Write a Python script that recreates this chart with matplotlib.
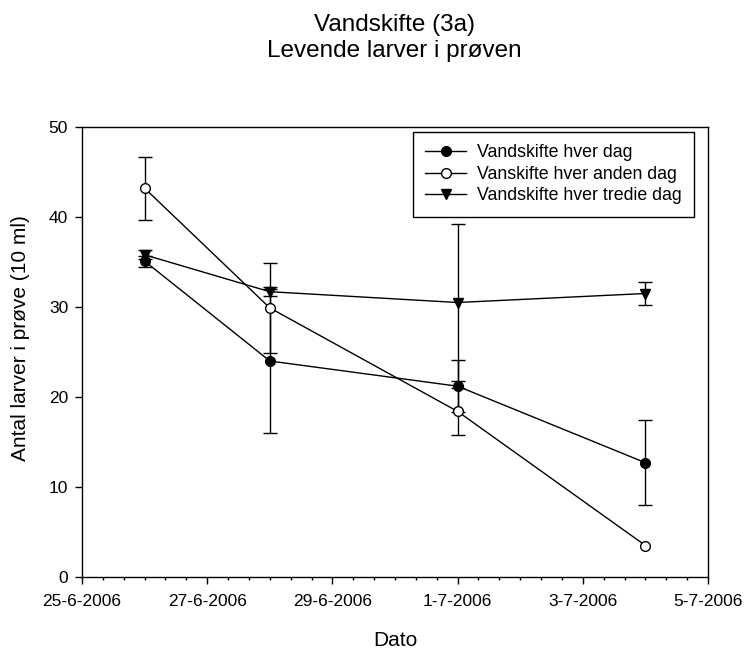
import datetime as dt

import matplotlib
matplotlib.use("Agg")
import matplotlib.pyplot as plt
import matplotlib.dates as mdates
import numpy as np
from matplotlib.lines import Line2D
from matplotlib.ticker import FuncFormatter

plt.rcParams['font.family'] = ['Liberation Sans', 'DejaVu Sans']

# Sampling dates and mean counts (with standard deviations) per treatment
dates = [dt.datetime(2006, 6, 26), dt.datetime(2006, 6, 28),
         dt.datetime(2006, 7, 1), dt.datetime(2006, 7, 4)]

daily = [35.1, 24.0, 21.2, 12.7]
daily_sd = [0.6, 8.0, 2.9, 4.7]

every_other = [43.2, 29.9, 18.4, 3.5]
every_other_sd = [3.5, 5.0, 2.6, np.nan]  # last sample has no spread

every_third = [35.8, 31.7, 30.5, 31.5]
every_third_sd = [0.5, 0.5, 8.7, 1.3]

labels = ["Vandskifte hver dag", "Vanskifte hver anden dag",
          "Vandskifte hver tredie dag"]

W, H = 744, 650
fig = plt.figure(figsize=(W / 100, H / 100), dpi=100)
ax = fig.add_axes([82 / W, 1 - 577 / H, 626 / W, 450 / H])

common = dict(color='black', lw=1.0, elinewidth=1.0, capsize=5, capthick=1.0,
              markersize=7, markeredgecolor='black', markeredgewidth=1.0)

ax.errorbar(dates, daily, yerr=daily_sd, fmt='-o', markerfacecolor='black',
            **common)
ax.errorbar(dates, every_other, yerr=every_other_sd, fmt='-o',
            markerfacecolor='white', **common)
ax.errorbar(dates, every_third, yerr=every_third_sd, fmt='-v',
            markerfacecolor='black', **common)

ax.set_xlim(dt.datetime(2006, 6, 25), dt.datetime(2006, 7, 5))
ax.set_ylim(0, 50)

ax.xaxis.set_major_locator(mdates.DayLocator(bymonthday=[25, 27, 29, 1, 3, 5]))
ax.xaxis.set_minor_locator(mdates.HourLocator(byhour=[0, 8, 16]))


def fmt_date(x, pos):
    d = mdates.num2date(x)
    return f"{d.day}-{d.month}-{d.year}"


ax.xaxis.set_major_formatter(FuncFormatter(fmt_date))
ax.set_yticks([0, 10, 20, 30, 40, 50])

ax.tick_params(axis='both', which='major', direction='out', length=5,
               width=1, labelsize=12.5, pad=5)
ax.tick_params(axis='x', which='major', pad=7)
ax.tick_params(axis='x', which='minor', direction='out', length=2.5, width=1)
for s in ax.spines.values():
    s.set_linewidth(1.0)

# axis titles placed in figure coordinates
fig.text(395 / W, 1 - 640 / H, "Dato", ha='center', va='center', fontsize=15)
fig.text(21 / W, 1 - 338 / H, "Antal larver i prøve (10 ml)", ha='center',
         va='center', rotation=90, fontsize=15)

fig.text(394 / W, 1 - 38 / H, "Vandskifte (3a)\nLevende larver i prøven",
         ha='center', va='center', fontsize=17.5, linespacing=1.2)

handles = [
    Line2D([], [], color='black', lw=1.0, marker='o', markersize=7,
           markerfacecolor='black', markeredgecolor='black'),
    Line2D([], [], color='black', lw=1.0, marker='o', markersize=7,
           markerfacecolor='white', markeredgecolor='black'),
    Line2D([], [], color='black', lw=1.0, marker='v', markersize=7,
           markerfacecolor='black', markeredgecolor='black'),
]
leg = fig.legend(handles, labels, loc='upper left',
                 bbox_to_anchor=(413 / W, 1 - 132 / H), borderaxespad=0,
                 fontsize=12.8, frameon=True, fancybox=False,
                 edgecolor='black', framealpha=1, handlelength=2.3,
                 borderpad=0.7, labelspacing=0.25, handletextpad=0.6)
leg.get_frame().set_linewidth(1.0)

fig.savefig("out.png", dpi=100)
